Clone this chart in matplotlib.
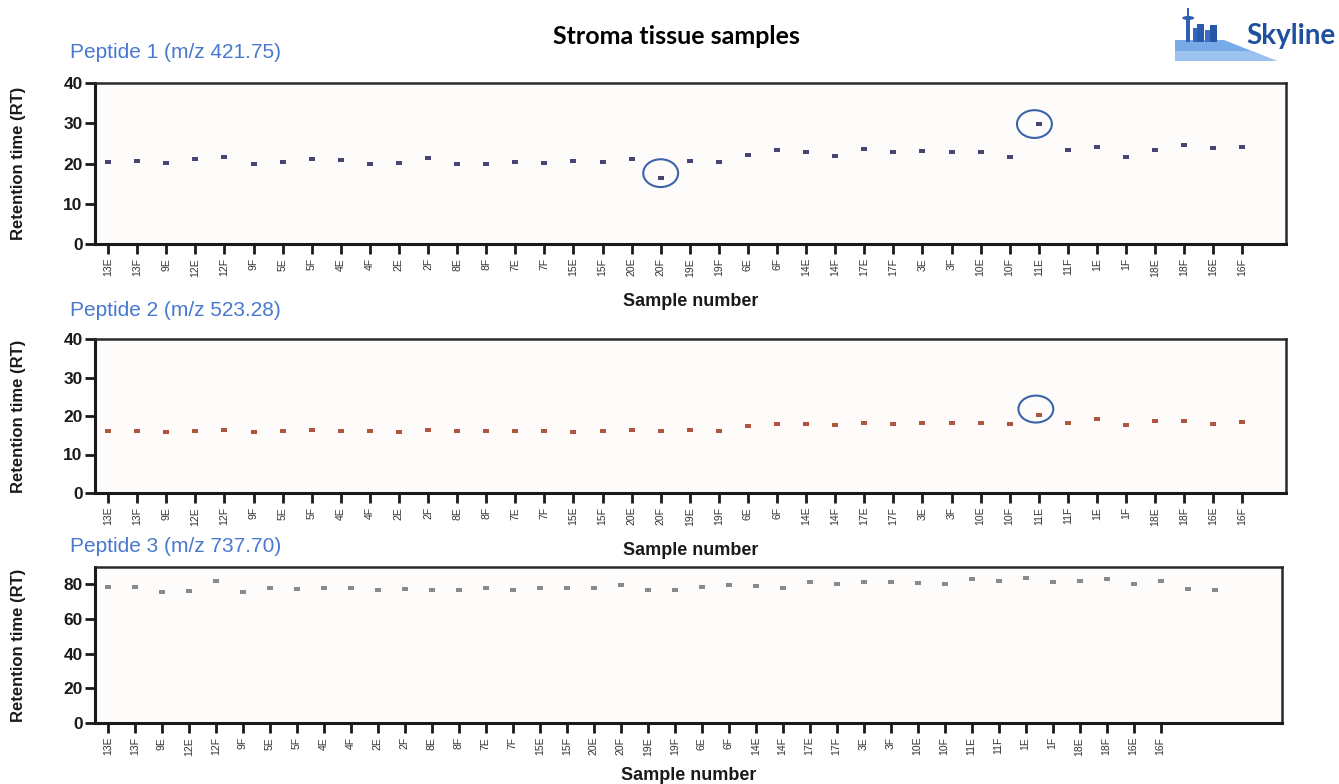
import matplotlib
matplotlib.use("Agg")
import matplotlib.pyplot as plt
from matplotlib.patches import Ellipse, Polygon, Rectangle

plt.rcParams['font.family'] = ['Liberation Sans', 'DejaVu Sans']

samples = ['13E', '13F', '9E', '12E', '12F', '9F', '5E', '5F', '4E', '4F',
           '2E', '2F', '8E', '8F', '7E', '7F', '15E', '15F', '20E', '20F',
           '19E', '19F', '6E', '6F', '14E', '14F', '17E', '17F', '3E', '3F',
           '10E', '10F', '11E', '11F', '1E', '1F', '18E', '18F', '16E', '16F']

rt_pep1 = [20.3, 20.6, 20.2, 21.1, 21.6, 20.0, 20.3, 21.0, 20.9, 19.8,
           20.1, 21.3, 20.0, 19.9, 20.3, 20.1, 20.7, 20.4, 21.2, 16.3,
           20.7, 20.4, 22.0, 23.3, 22.8, 21.9, 23.5, 22.8, 23.1, 22.9,
           22.9, 21.6, 29.8, 23.3, 24.2, 21.5, 23.4, 24.5, 23.8, 24.1]

rt_pep2 = [16.1, 16.2, 15.8, 16.1, 16.3, 15.8, 16.0, 16.4, 16.2, 16.2,
           15.9, 16.3, 16.1, 16.1, 16.0, 16.0, 15.9, 16.2, 16.4, 16.2,
           16.3, 16.2, 17.5, 18.0, 17.8, 17.6, 18.1, 18.0, 18.1, 18.2,
           18.3, 17.9, 20.3, 18.2, 19.2, 17.6, 18.7, 18.7, 18.0, 18.5]

# peptide 3 has two extra runs after 16F with no tick label
rt_pep3 = [78.4, 78.6, 75.4, 76.3, 82.1, 75.8, 78.1, 77.5, 77.9, 77.9,
           76.9, 77.3, 76.9, 76.7, 77.7, 76.9, 77.7, 77.9, 78.1, 79.8,
           76.9, 76.5, 78.6, 79.8, 79.0, 78.1, 81.1, 80.2, 81.1, 81.1,
           80.7, 80.3, 83.2, 82.2, 83.6, 81.5, 81.9, 83.2, 80.3, 81.9,
           77.3, 76.5]

W, H = 1339, 784
fig = plt.figure(figsize=(W / 100, H / 100), dpi=100)

rect_marker = [(-1.3, -1), (1.3, -1), (1.3, 1), (-1.3, 1)]
blue_txt = '#4878cf'
ring = '#3a63aa'


def panel(left, top, right, bottom):
    return fig.add_axes([left / W, 1 - bottom / H, (right - left) / W, (bottom - top) / H])


def style(ax, values, color, ymax, ystep, xlim, pad=12):
    x = list(range(len(values)))
    ax.plot(x, values, linestyle='none', marker=rect_marker, markersize=4.6,
            color=color, markeredgewidth=0)
    ax.set_facecolor('#fdfcfb')
    ax.set_ylim(0, ymax)
    ax.set_yticks(range(0, ymax + 1 if ymax % ystep == 0 else ymax, ystep))
    ax.set_xlim(*xlim)
    ax.set_xticks(range(len(samples)))
    ax.set_xticklabels(samples, rotation=90, fontsize=7.5, color='#333333')
    for lab in ax.get_yticklabels():
        lab.set_fontweight('bold')
        lab.set_fontsize(12.5)
        lab.set_color('#1a1a1a')
    ax.tick_params(axis='y', direction='out', length=7, width=2, pad=2, color='#1a1a1a')
    ax.tick_params(axis='x', direction='out', length=7, width=2, pad=3, color='#1a1a1a')
    for side in ['left', 'bottom']:
        ax.spines[side].set_linewidth(2.2)
        ax.spines[side].set_color('#1a1a1a')
    for side in ['top', 'right']:
        ax.spines[side].set_linewidth(1.8)
        ax.spines[side].set_color('#2a2a2a')
    ax.set_ylabel('Retention time (RT)', fontsize=12, fontweight='bold', color='#1a1a1a')
    ax.yaxis.set_label_coords(-0.058, 0.5)
    ax.set_xlabel('Sample number', fontsize=13, fontweight='bold', color='#1a1a1a', labelpad=pad)


ax1 = panel(95, 83, 1286, 244)
style(ax1, rt_pep1, '#4b4470', 40, 10, (-0.45, 40.5))
ax1.add_patch(Ellipse((19.0, 17.6), 1.2, 6.9, fill=False, edgecolor=ring, linewidth=1.5))
ax1.add_patch(Ellipse((31.85, 29.8), 1.2, 6.9, fill=False, edgecolor=ring, linewidth=1.5))

ax2 = panel(95, 339, 1286, 493)
style(ax2, rt_pep2, '#b0553f', 40, 10, (-0.45, 40.5))
ax2.add_patch(Ellipse((31.9, 21.8), 1.2, 7.0, fill=False, edgecolor=ring, linewidth=1.5))

ax3 = panel(95, 567, 1282, 723)
style(ax3, rt_pep3, '#8a8a8a', 90, 20, (-0.48, 43.5), pad=8)

fig.text(70 / W, 1 - 53 / H, 'Peptide 1 (m/z 421.75)', fontsize=15, color=blue_txt, va='center')
fig.text(70 / W, 1 - 311 / H, 'Peptide 2 (m/z 523.28)', fontsize=15, color=blue_txt, va='center')
fig.text(70 / W, 1 - 546 / H, 'Peptide 3 (m/z 737.70)', fontsize=15, color=blue_txt, va='center')

fig.text(676 / W, 1 - 37 / H, 'Stroma tissue samples', fontsize=18, fontweight='bold',
         family=['Lato', 'DejaVu Sans'], ha='center', va='center', color='black')

# Skyline logo
logo = fig.add_axes([1173 / W, 1 - 62 / H, 104 / W, 54 / H])
logo.set_xlim(1173, 1277)
logo.set_ylim(62, 8)
logo.axis('off')
logo.add_patch(Polygon([(1175, 61), (1175, 40), (1224, 40), (1277, 61)],
                       closed=True, facecolor='#79aae8', edgecolor='none'))
logo.add_patch(Polygon([(1175, 61), (1175, 51), (1250, 51), (1277, 61)],
                       closed=True, facecolor='#9cc2f0', edgecolor='none'))
logo.add_patch(Rectangle((1186.5, 16), 3.5, 26, facecolor='#2d5fb4', edgecolor='none'))
logo.add_patch(Ellipse((1188.2, 18), 12, 4, facecolor='#2d5fb4', edgecolor='none'))
logo.plot([1188.2, 1188.2], [8, 16], color='#2d5fb4', linewidth=1.4)
logo.add_patch(Rectangle((1193, 28), 4, 14, facecolor='#3366bb', edgecolor='none'))
logo.add_patch(Rectangle((1197.5, 24), 7, 18, facecolor='#2a5aad', edgecolor='none'))
logo.add_patch(Rectangle((1205.5, 30), 5, 12, facecolor='#3a6fc4', edgecolor='none'))
logo.add_patch(Rectangle((1210.5, 25), 7, 17, facecolor='#2656a8', edgecolor='none'))
fig.text(1246 / W, 1 - 36 / H, 'Skyline', fontsize=20, fontweight='bold',
         family=['Lato', 'DejaVu Sans'], color='#1f4f9f', va='center')

fig.savefig('out.png', dpi=100, facecolor='white')
